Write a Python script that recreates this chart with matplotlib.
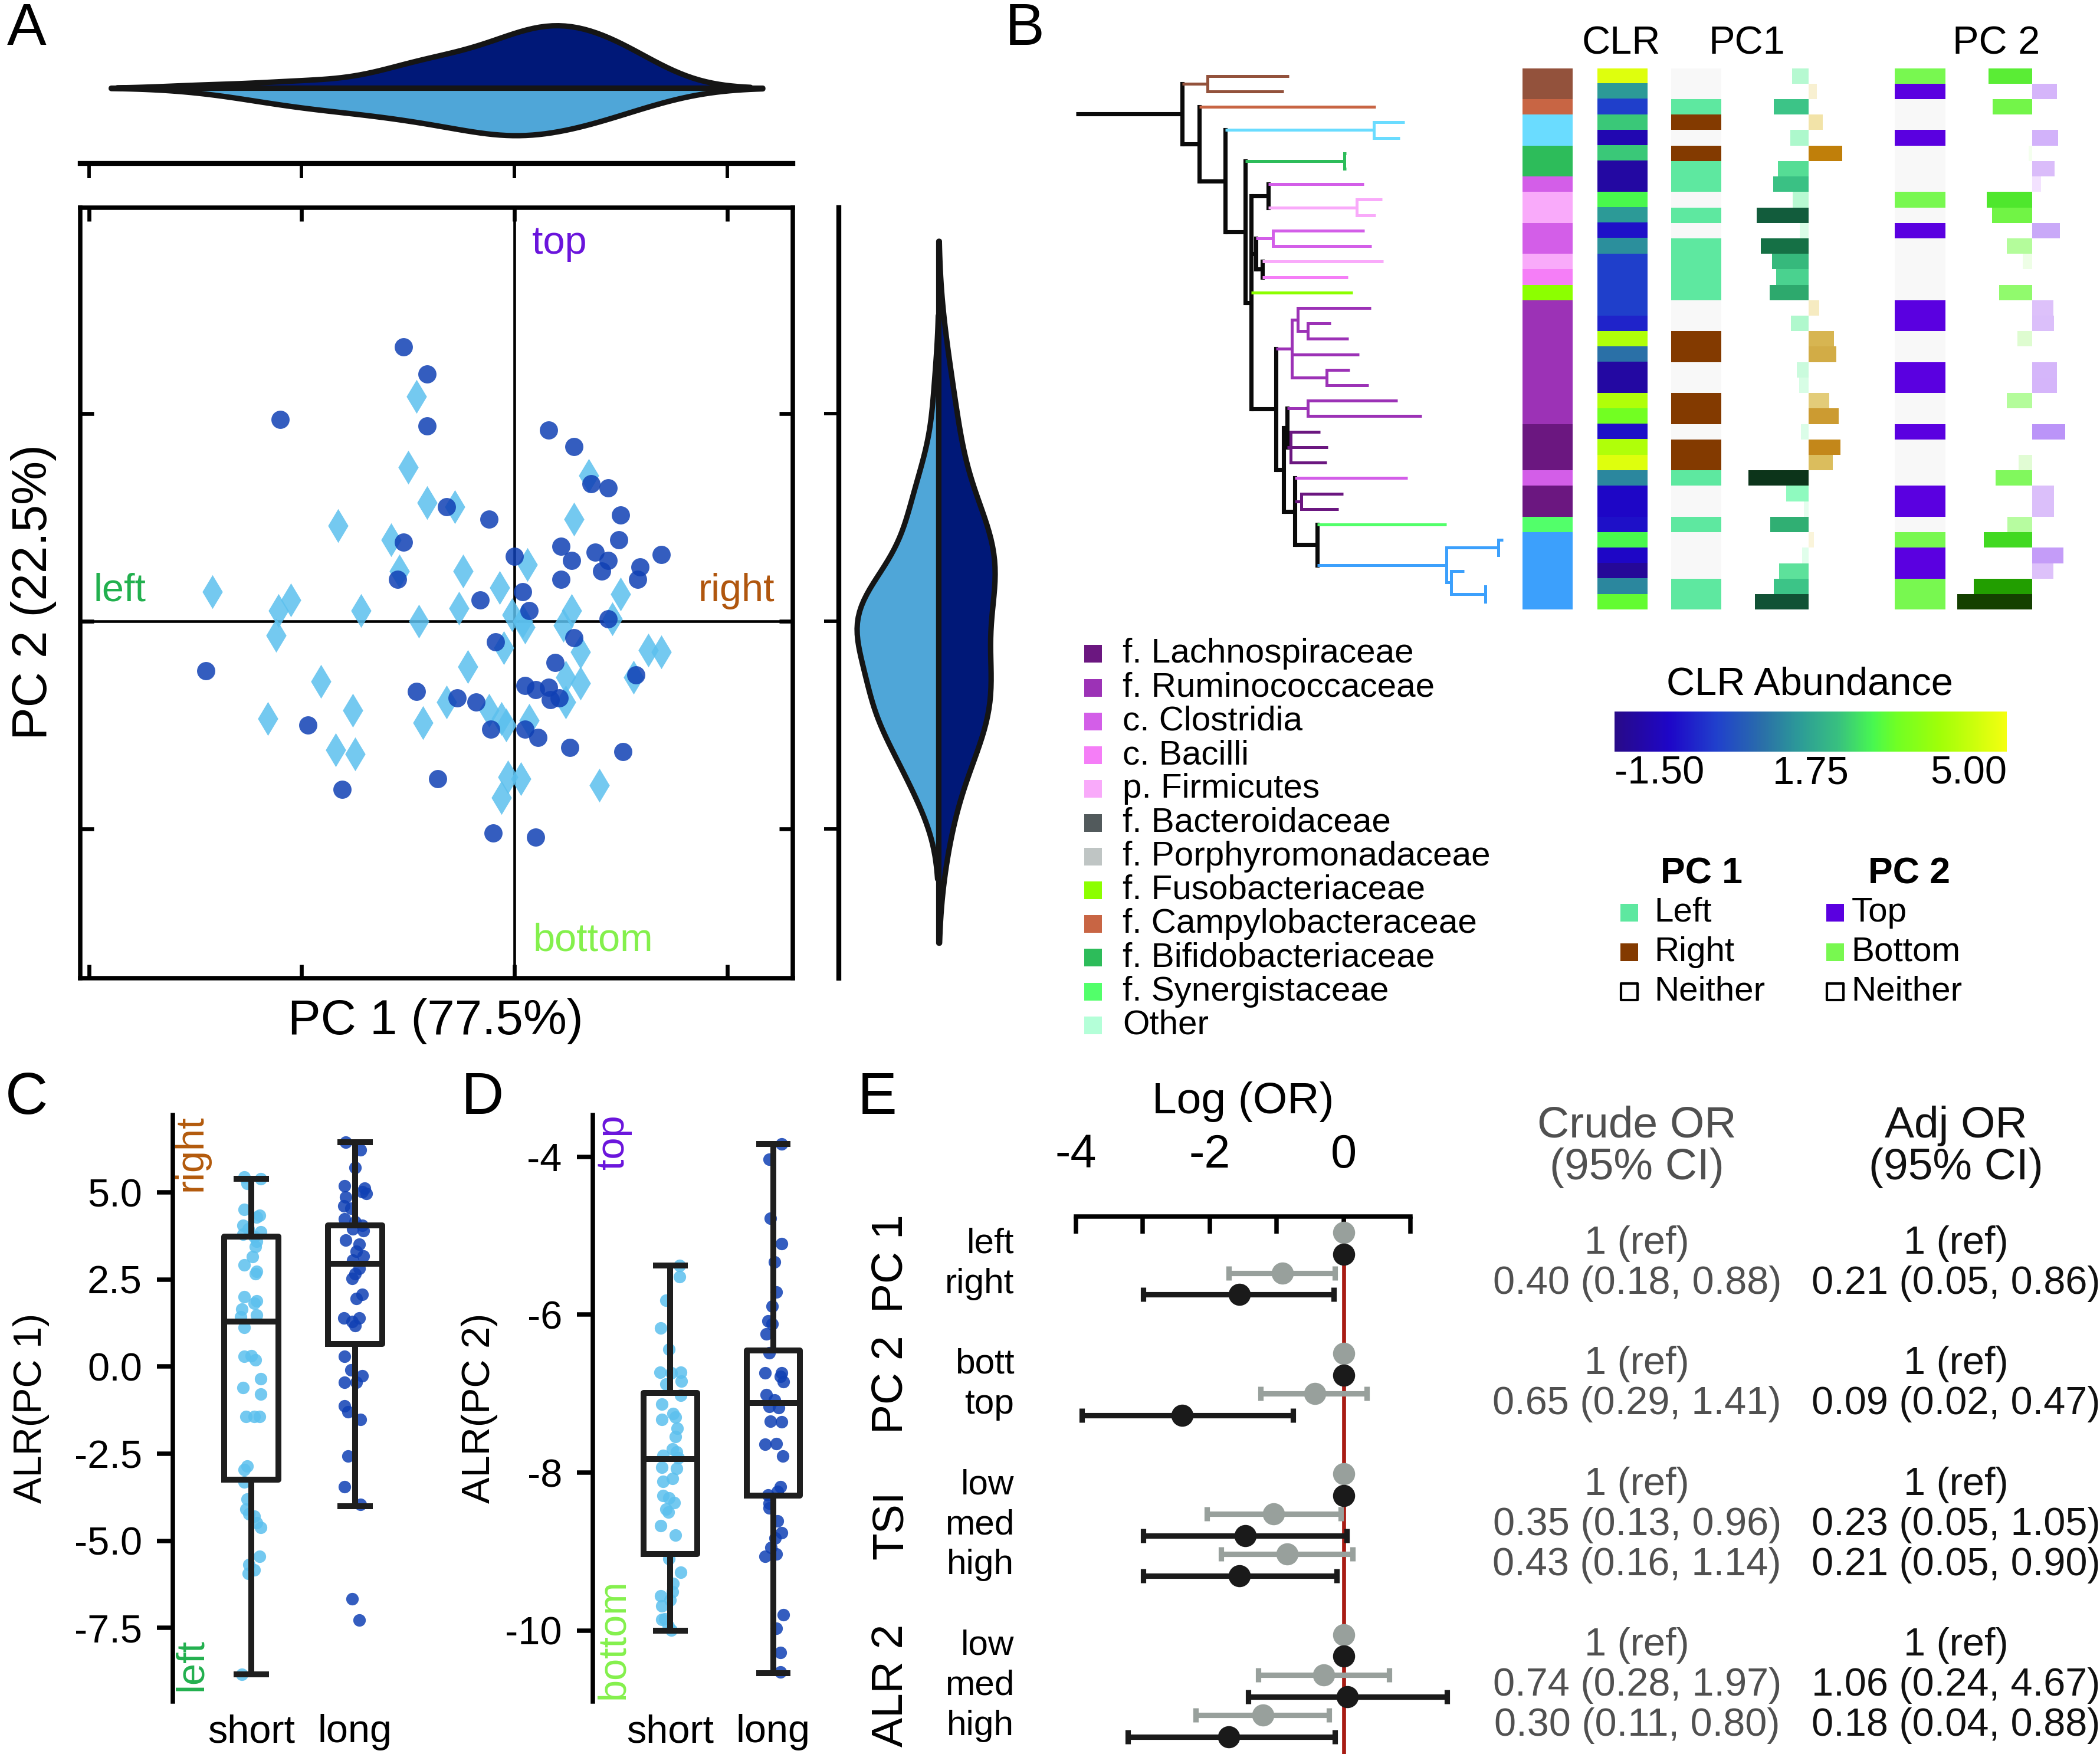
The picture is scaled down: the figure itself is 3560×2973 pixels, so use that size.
import numpy as np
import pandas as pd
import matplotlib
matplotlib.use("Agg")
import matplotlib.pyplot as plt
import seaborn as sns
from matplotlib.colors import LinearSegmentedColormap, Normalize, to_rgba
from matplotlib import transforms

plt.rcParams['font.family'] = ['Liberation Sans', 'DejaVu Sans']
plt.rcParams['axes.unicode_minus'] = False

# ---------------- A: PCA scores ----------------
long_pc1 = [-0.52, -0.41, -1.10, -0.41, 0.16, 0.28, 0.36, 0.44, 0.50, -0.32, -0.12, -0.52, 0.49,
            0.22, 0.38, 0.69, 0.00, 0.27, 0.44, 0.41, 0.59, 0.58, 0.22, -0.55, 0.04, -0.16, 0.07,
            0.44, -0.09, 0.28, -1.45, 0.19, 0.57, 0.05, 0.10, 0.16, -0.46, -0.27, -0.18, 0.17,
            0.21, -0.97, -0.11, 0.05, 0.11, 0.26, 0.51, -0.36, -0.81, -0.10, 0.10]
long_pc2 = [1.32, 1.19, 0.97, 0.94, 0.92, 0.84, 0.66, 0.64, 0.51, 0.55, 0.49, 0.38, 0.39, 0.36,
            0.33, 0.32, 0.31, 0.29, 0.29, 0.24, 0.26, 0.20, 0.20, 0.20, 0.14, 0.10, 0.05, 0.01,
            -0.10, -0.08, -0.24, -0.20, -0.26, -0.31, -0.33, -0.32, -0.34, -0.37, -0.39, -0.38,
            -0.37, -0.50, -0.52, -0.52, -0.56, -0.61, -0.63, -0.76, -0.81, -1.02, -1.04]
short_pc1 = [-0.46, -0.50, 0.35, -0.41, -0.28, -0.83, 0.28, -0.58, -0.54, -0.24, 0.06, -1.42,
             -1.05, -0.07, 0.50, -1.11, -0.72, -0.26, 0.27, -0.45, -0.01, 0.04, 0.05, 0.23, 0.46,
             -1.12, -0.05, 0.31, 0.63, 0.69, -0.22, -0.91, 0.24, 0.31, 0.56, 0.24, -0.32, -0.76,
             -0.12, -1.16, -0.06, -0.04, 0.07, -0.43, -0.84, -0.75, -0.03, 0.03, 0.40, -0.06]
short_pc2 = [1.08, 0.74, 0.70, 0.57, 0.55, 0.46, 0.49, 0.39, 0.24, 0.24, 0.27, 0.14, 0.10, 0.16,
             0.13, 0.05, 0.05, 0.06, 0.05, 0.00, 0.03, 0.00, -0.03, -0.02, 0.01, -0.07, -0.13,
             -0.15, -0.14, -0.15, -0.22, -0.29, -0.27, -0.30, -0.27, -0.39, -0.39, -0.43, -0.43,
             -0.47, -0.47, -0.50, -0.48, -0.49, -0.62, -0.64, -0.75, -0.76, -0.79, -0.85]

# ---------------- B: taxa tree + heatmap ----------------
row_taxa = (['brown'] * 2 + ['f. Campylobacteraceae'] + ['cyan'] * 2 + ['f. Bifidobacteriaceae'] * 2
            + ['c. Clostridia'] + ['p. Firmicutes'] * 2 + ['c. Clostridia'] * 2 + ['p. Firmicutes']
            + ['c. Bacilli'] + ['f. Fusobacteriaceae'] + ['f. Ruminococcaceae'] * 8
            + ['f. Lachnospiraceae'] * 3 + ['c. Clostridia'] + ['f. Lachnospiraceae'] * 2
            + ['f. Synergistaceae'] + ['blue'] * 5)
clr_vals = [4.7, 1.55, 0.19, 2.3, -0.9, 2.3, -1.1, -1.1, 2.8, 1.55, -0.45, 1.4, 0.19, 0.19, 0.19,
            0.19, -0.2, 4.1, 0.97, -1.1, -1.1, 4.1, 3.2, -0.45, 4.1, 4.7, 1.3, -0.6, -0.6, -0.45,
            2.8, -0.6, -1.25, 1.3, 3.05]
pc1_class = list("NNLRNRLLNLNLLLLNNRRNNRRNRRLNNLNNNLL")
pc2_class = list("BTNNTNNNBNTNNNNTTNNTTNNTNNNTTNBTTBB")
pc1_load = [-0.42, 0.21, -0.90, 0.36, -0.47, 0.86, -0.79, -0.91, -0.41, -1.33, -0.22, -1.23, -0.94,
            -0.84, -1.00, 0.27, -0.46, 0.66, 0.71, -0.31, -0.24, 0.54, 0.77, -0.20, 0.82, 0.62,
            -1.55, -0.58, -0.12, -0.98, 0.14, -0.16, -0.76, -0.90, -1.38]
pc2_load = [-1.13, 0.64, -1.02, 0.0, 0.66, -0.10, 0.58, 0.22, -1.17, -1.04, 0.71, -0.66, -0.24, 0.0,
            -0.86, 0.54, 0.56, -0.38, 0.0, 0.63, 0.64, -0.66, 0.0, 0.85, 0.0, -0.36, -0.94, 0.56,
            0.56, -0.64, -1.25, 0.80, 0.54, -1.51, -1.93]

# tree (newick, branch lengths)
_H = "(r8:0.75,r9:0.56):2.62"
_G = f"(r7:2.82,{_H}):0.50"
_I = "((r10:2.72,r11:2.92):0.50,(r12:3.57,r13:2.53):0.20):0.13"
_M = "((r15:2.15,(r16:0.68,r17:1.20):0.29):0.18,r18:1.99,(r19:0.67,r20:1.24):1.03):0.47"
_R2 = "((r21:2.65,r22:3.36):0.62,(r23:0.87,r24:1.09,r25:1.06):0.12):0.10"
_X = "((r30:0.15,r31:0.05):1.53,(r32:0.38,(r33:0.03,r34:0.03):1.00):0.15):3.83"
_U = f"(r26:3.33,(r27:1.24,r28:1.11):0.18,(r29:3.83,{_X}):0.65):0.34"
_L = f"({_M},({_R2},{_U}):0.22):0.73"
_F = f"({_G},{_I},r14:3.00,{_L}):0.18"
_D = f"((r5:0.05,r6:0.05):2.93,{_F}):0.59"
NEWICK = f"((r0:2.41,r1:2.25):0.75,(r2:5.22,((r3:0.91,r4:0.78):4.39,{_D}):0.78):0.50):3.15"

tax_legend = ['f. Lachnospiraceae', 'f. Ruminococcaceae', 'c. Clostridia', 'c. Bacilli',
              'p. Firmicutes', 'f. Bacteroidaceae', 'f. Porphyromonadaceae', 'f. Fusobacteriaceae',
              'f. Campylobacteraceae', 'f. Bifidobacteriaceae', 'f. Synergistaceae', 'Other']

# ---------------- C / D: ALR box plots ----------------
c_short = [5.45, 5.39, 5.26, 4.51, 4.35, 4.29, 4.06, 3.96, 3.87, 3.81, 3.73, 3.60, 3.44, 3.16, 2.92,
           2.73, 2.66, 2.01, 1.88, 1.82, 1.65, 1.49, 1.43, 1.13, 0.32, 0.29, 0.19, -0.35, -0.61,
           -0.78, -1.43, -1.43, -1.43, -2.86, -2.95, -3.31, -3.81, -4.09, -4.22, -4.29, -4.48,
           -4.61, -5.45, -5.68, -5.84, -5.94, -8.83]
c_short_dx = [-0.07, 0.09, -0.04, -0.07, 0.08, 0.05, -0.08, -0.03, 0.09, -0.08, 0.03, 0.05, 0.04,
              0.01, -0.07, 0.05, 0.04, -0.07, 0.05, 0.03, -0.09, 0.05, -0.10, -0.07, 0.00, -0.07,
              0.04, 0.09, -0.08, 0.09, -0.05, 0.03, 0.08, -0.04, -0.07, -0.07, -0.04, -0.05, -0.02,
              0.03, 0.05, 0.09, 0.08, -0.02, 0.03, -0.03, -0.09]
c_long = [6.44, 6.23, 5.71, 5.19, 5.13, 5.03, 4.97, 4.87, 4.61, 4.55, 4.25, 4.16, 4.06, 3.96, 3.90,
          3.64, 3.51, 3.31, 3.18, 3.05, 2.82, 2.66, 2.53, 2.08, 1.95, 1.39, 1.39, 1.30, 1.17, 0.29,
          -0.09, -0.26, -0.45, -0.45, -1.13, -1.30, -1.52, -2.57, -3.44, -3.96, -6.66, -7.27]
c_long_dx = [-0.09, 0.05, 0.00, -0.10, 0.09, 0.07, 0.11, -0.09, -0.11, -0.04, -0.10, 0.00, 0.07,
             -0.02, 0.08, -0.09, 0.04, 0.01, 0.08, -0.02, 0.04, 0.00, -0.03, 0.07, 0.01, -0.11,
             0.04, -0.03, 0.00, -0.10, -0.04, 0.07, -0.10, 0.01, -0.10, -0.07, 0.05, -0.07, -0.10,
             0.05, -0.03, 0.04]
d_short = [-5.38, -5.52, -5.82, -6.17, -6.44, -6.73, -6.74, -6.88, -6.73, -6.84, -7.02, -7.13, -7.25,
           -7.30, -7.33, -7.44, -7.54, -7.70, -7.74, -7.78, -7.81, -7.93, -7.95, -8.07, -8.11, -8.29,
           -8.32, -8.38, -8.46, -8.50, -8.67, -8.79, -9.09, -9.26, -9.40, -9.51, -9.56, -9.61,
           -9.69, -9.85, -9.86, -9.94, -9.99]
d_short_dx = [0.09, 0.09, -0.04, -0.09, -0.01, -0.10, 0.01, -0.04, 0.10, 0.11, 0.10, -0.08, 0.03,
              0.05, -0.08, 0.07, 0.05, 0.02, 0.06, -0.07, 0.08, -0.08, 0.06, 0.02, -0.07, -0.07,
              -0.01, 0.04, -0.04, -0.02, -0.09, 0.05, -0.01, 0.10, 0.03, 0.02, -0.09, 0.00, -0.08,
              -0.05, -0.08, -0.02, 0.01]
d_long = [-3.84, -4.03, -4.78, -5.10, -5.33, -5.71, -5.89, -6.08, -6.12, -6.24, -6.48, -6.74, -6.74,
          -6.78, -6.85, -7.01, -7.08, -7.16, -7.18, -7.35, -7.36, -7.64, -7.63, -7.79, -8.18, -8.24,
          -8.28, -8.39, -8.45, -8.61, -8.76, -8.83, -8.95, -9.03, -9.06, -9.80, -9.97, -10.28,
          -10.52]
d_long_dx = [0.08, -0.04, -0.03, 0.08, 0.01, 0.03, -0.01, -0.05, -0.01, -0.07, -0.04, -0.08, 0.08,
             0.07, 0.10, -0.07, 0.01, -0.04, 0.05, -0.03, 0.08, -0.08, 0.03, 0.09, 0.07, 0.04,
             -0.05, -0.04, -0.04, 0.04, 0.08, 0.02, -0.02, 0.03, -0.08, 0.10, 0.03, 0.07, 0.07]
# box stats: whislo, q1, med, q3, whishi
c_box = {'short': [-8.84, -3.25, 1.30, 3.73, 5.39], 'long': [-4.0, 0.65, 2.96, 4.06, 6.44]}
d_box = {'short': [-10.0, -9.03, -7.83, -6.99, -5.38], 'long': [-10.54, -8.29, -7.12, -6.45, -3.84]}

# ---------------- E: odds ratios ----------------
or_groups = ['PC 1', 'PC 1', 'PC 2', 'PC 2', 'TSI', 'TSI', 'TSI', 'ALR 2', 'ALR 2', 'ALR 2']
or_levels = ['left', 'right', 'bott', 'top', 'low', 'med', 'high', 'low', 'med', 'high']
crude_or = [1, 0.40, 1, 0.65, 1, 0.35, 0.43, 1, 0.74, 0.30]
crude_lo = [np.nan, 0.18, np.nan, 0.29, np.nan, 0.13, 0.16, np.nan, 0.28, 0.11]
crude_hi = [np.nan, 0.88, np.nan, 1.41, np.nan, 0.96, 1.14, np.nan, 1.97, 0.80]
adj_or = [1, 0.21, 1, 0.09, 1, 0.23, 0.21, 1, 1.06, 0.18]
adj_lo = [np.nan, 0.05, np.nan, 0.02, np.nan, 0.05, 0.05, np.nan, 0.24, 0.04]
adj_hi = [np.nan, 0.86, np.nan, 0.47, np.nan, 1.05, 0.90, np.nan, 4.67, 0.88]

# ---------------- styles ----------------
C_LONG, C_SHORT = '#1040b4', '#5cc0ee'
V_LONG, V_SHORT = '#001878', '#4fa6d8'
tax_colors = {'f. Lachnospiraceae': '#6b1780', 'f. Ruminococcaceae': '#9c32b6',
              'c. Clostridia': '#d35ee8', 'c. Bacilli': '#f57ef7', 'p. Firmicutes': '#f9aafa',
              'f. Bacteroidaceae': '#525a5c', 'f. Porphyromonadaceae': '#bfc5c4',
              'f. Fusobacteriaceae': '#8cff00', 'f. Campylobacteraceae': '#c86544',
              'f. Bifidobacteriaceae': '#2dbc5a', 'f. Synergistaceae': '#52ff6a', 'Other': '#b4ffd8',
              'brown': '#93523c', 'cyan': '#6adcff', 'blue': '#3ca0fc'}
class_colors = {'L': '#5ee8a0', 'R': '#833a00', 'T': '#5a00e0', 'B': '#78f850', 'N': '#f8f8f8'}
clr_cmap = LinearSegmentedColormap.from_list('clr', [
    (0, '#280a88'), (0.14, '#1e06c8'), (0.26, '#2040cc'), (0.38, '#2a70a8'), (0.47, '#2c9a98'),
    (0.57, '#38c080'), (0.66, '#48f850'), (0.72, '#70ff24'), (0.83, '#a0ff08'), (1.0, '#f4ff10')])
clr_norm = Normalize(-1.5, 5.0)
pc1_neg = LinearSegmentedColormap.from_list('p1n', [
    (0, '#f0fff5'), (0.15, '#d8fde6'), (0.3, '#aef8cc'), (0.38, '#8cfabe'), (0.51, '#55dd95'),
    (0.58, '#3cc487'), (0.65, '#2ca86c'), (0.8, '#146e44'), (0.87, '#12583a'), (1.0, '#0c341a')])
pc1_pos = LinearSegmentedColormap.from_list('p1p', [
    (0, '#fffbec'), (0.25, '#f8f0d0'), (0.42, '#f2e3a8'), (0.63, '#e3cc78'), (0.75, '#d8b855'),
    (0.83, '#d2ac45'), (0.9, '#cc9a30'), (0.95, '#c4881c'), (1.0, '#c07f0a')])
pc2_neg = LinearSegmentedColormap.from_list('p2n', [
    (0, '#f8fff4'), (0.12, '#eefee6'), (0.19, '#e0fcd2'), (0.34, '#b4fc9c'), (0.45, '#90fa6c'),
    (0.49, '#80f85c'), (0.54, '#70f444'), (0.6, '#52ea30'), (0.65, '#40d820'), (0.78, '#22a000'),
    (1.0, '#144000')])
pc2_pos = LinearSegmentedColormap.from_list('p2p', [
    (0, '#fbf6ff'), (0.26, '#f3e2ff'), (0.65, '#dcc0fa'), (0.76, '#d4b4fa'), (0.84, '#c8a8f8'),
    (0.94, '#c49cf8'), (1.0, '#bb94f8')])

W, H = 1568, 1309  # layout grid


def box(x0, y0, x1, y1):
    return [x0 / W, 1 - y1 / H, (x1 - x0) / W, (y1 - y0) / H]


def bare(ax):
    for s in ax.spines.values():
        s.set_visible(False)
    ax.set_xticks([])
    ax.set_yticks([])
    ax.set_xlabel('')
    ax.set_ylabel('')
    ax.patch.set_visible(False)


def squeeze_half(ax, color, factor, axis):
    # narrow one half of a split violin (density_norm='width' gives both halves equal width)
    target = to_rgba(color)
    for coll in ax.collections:
        fc = coll.get_facecolor()
        if len(fc) and np.allclose(fc[0][:3], target[:3], atol=0.02):
            verts = []
            for p in coll.get_paths():
                v = p.vertices.copy()
                v[:, axis] *= factor
                verts.append(v)
            coll.set_verts(verts)


fig = plt.figure(figsize=(3561 / 300, 2973 / 300), dpi=300)
ov = fig.add_axes([0, 0, 1, 1], zorder=10)
ov.set_xlim(0, W)
ov.set_ylim(H, 0)
ov.axis('off')

# ======== A ========
axA = fig.add_axes(box(60, 155, 592, 730))
axA.scatter(short_pc1, short_pc2, marker='d', s=95, color=C_SHORT, alpha=0.85, lw=0, zorder=3)
axA.scatter(long_pc1, long_pc2, marker='o', s=55, color=C_LONG, alpha=0.85, lw=0, zorder=4)
axA.axhline(0, color='k', lw=1.1, zorder=2)
axA.axvline(0, color='k', lw=1.1, zorder=2)
axA.set_xlim(-2.04, 1.31)
axA.set_ylim(-1.72, 1.99)
axA.set_xticks([-2, -1, 0, 1])
axA.set_yticks([-1, 0, 1])
axA.tick_params(direction='in', top=True, right=True, length=5.5, width=1.6,
                labelbottom=False, labelleft=False)
for s in axA.spines.values():
    s.set_linewidth(1.8)

grp = ['long'] * len(long_pc1) + ['short'] * len(short_pc1)
dfA = pd.DataFrame({'pc1': long_pc1 + short_pc1, 'pc2': long_pc2 + short_pc2, 'grp': grp, 'pos': 'all'})
pal = {'long': V_LONG, 'short': V_SHORT}

axT = fig.add_axes(box(60, 10, 592, 122))
sns.violinplot(data=dfA, x='pc1', y='pos', hue='grp', hue_order=['long', 'short'], split=True,
               inner=None, orient='h', palette=pal, saturation=1, linewidth=2.2,
               linecolor='#151515', legend=False, density_norm='width', ax=axT)
squeeze_half(axT, V_SHORT, 0.76, 1)
axT.set_xlim(-2.04, 1.31)
axT.set_ylim(0.484, -0.477)
axT.set_xlabel('')
axT.set_ylabel('')
axT.set_yticks([])
axT.set_xticks([-2, -1, 0, 1])
axT.tick_params(axis='x', direction='out', length=6, width=1.4, labelbottom=False)
for k in ['top', 'left', 'right']:
    axT.spines[k].set_visible(False)
axT.spines['bottom'].set_linewidth(2.0)
axT.patch.set_visible(False)

axR = fig.add_axes(box(626, 155, 760, 730))
sns.violinplot(data=dfA, x='pos', y='pc2', hue='grp', hue_order=['short', 'long'], split=True,
               inner=None, orient='v', palette=pal, saturation=1, linewidth=2.2,
               linecolor='#151515', legend=False, density_norm='width', ax=axR)
squeeze_half(axR, V_LONG, 0.69, 0)
axR.set_xlim(-0.489, 0.39)
axR.set_ylim(-1.72, 1.99)
axR.set_xlabel('')
axR.set_ylabel('')
axR.set_xticks([])
axR.set_yticks([-1, 0, 1])
axR.tick_params(axis='y', direction='out', length=6, width=1.4, labelleft=False)
for k in ['top', 'bottom', 'right']:
    axR.spines[k].set_visible(False)
axR.spines['left'].set_linewidth(2.0)
axR.patch.set_visible(False)

ov.text(325, 762, 'PC 1 (77.5%)', fontsize=20, ha='center', va='center')
ov.text(25, 442, 'PC 2 (22.5%)', fontsize=20, ha='center', va='center', rotation=90)
ov.text(397, 182, 'top', fontsize=16, color='#6a14dc', ha='left', va='center')
ov.text(398, 702, 'bottom', fontsize=16, color='#84f04c', ha='left', va='center')
ov.text(70, 441, 'left', fontsize=16, color='#22b04e', ha='left', va='center')
ov.text(578, 441, 'right', fontsize=16, color='#b0560e', ha='right', va='center')


# ======== B: tree ========
def parse_newick(s):
    pos = 0

    def node():
        nonlocal pos
        children = []
        if s[pos] == '(':
            pos += 1
            children.append(node())
            while s[pos] == ',':
                pos += 1
                children.append(node())
            pos += 1
        start = pos
        while pos < len(s) and s[pos] not in ':,()':
            pos += 1
        name = s[start:pos]
        length = 0.0
        if pos < len(s) and s[pos] == ':':
            pos += 1
            start = pos
            while pos < len(s) and s[pos] not in ',()':
                pos += 1
            length = float(s[start:pos])
        return {'name': name, 'len': length, 'children': children}

    return node()


def layout(nd, x0):
    nd['x0'] = x0
    nd['x1'] = x0 + nd['len']
    if nd['children']:
        for c in nd['children']:
            layout(c, nd['x1'])
        nd['y'] = (nd['children'][0]['y'] + nd['children'][-1]['y']) / 2
        cols = {c['col'] for c in nd['children']}
        nd['col'] = cols.pop() if len(cols) == 1 else '#0a0a0a'
    else:
        r = int(nd['name'][1:])
        nd['y'] = r
        nd['col'] = tax_colors[row_taxa[r]]


def draw_tree(nd, ax):
    lw = 1.7 if nd['col'] == '#0a0a0a' else 1.2
    ax.plot([nd['x0'], nd['x1']], [nd['y'], nd['y']], color=nd['col'], lw=lw,
            solid_capstyle='butt', clip_on=False)
    if nd['children']:
        ax.plot([nd['x1'], nd['x1']], [nd['children'][0]['y'], nd['children'][-1]['y']],
                color=nd['col'], lw=lw, solid_capstyle='projecting', clip_on=False)
        for c in nd['children']:
            draw_tree(c, ax)


tree = parse_newick(NEWICK)
layout(tree, 0.0)
nrow = len(row_taxa)
rows = np.arange(nrow)
TOP, BOT = 50.9, 454.9
axTree = fig.add_axes(box(803, TOP, 1122, BOT))
draw_tree(tree, axTree)
axTree.set_xlim(0, 12.65)
axTree.set_ylim(nrow - 0.5, -0.5)
bare(axTree)


def col_axes(x0, x1):
    ax = fig.add_axes(box(x0, TOP, x1, BOT))
    ax.set_ylim(nrow - 0.5, -0.5)
    return ax


axTax = col_axes(1136.5, 1174)
axTax.barh(rows, 1, height=1.0, color=[tax_colors[t] for t in row_taxa], lw=0)
axTax.set_xlim(0, 1)
bare(axTax)

axClr = col_axes(1192.5, 1229.5)
axClr.imshow(np.array(clr_vals)[:, None], cmap=clr_cmap, norm=clr_norm, aspect='auto',
             extent=(0, 1, nrow - 0.5, -0.5), interpolation='nearest')
axClr.set_ylim(nrow - 0.5, -0.5)
bare(axClr)

axC1 = col_axes(1247.5, 1285)
axC1.barh(rows, 1, height=1.0, color=[class_colors[c] for c in pc1_class], lw=0)
axC1.set_xlim(0, 1)
bare(axC1)

axC2 = col_axes(1414.5, 1452)
axC2.barh(rows, 1, height=1.0, color=[class_colors[c] for c in pc2_class], lw=0)
axC2.set_xlim(0, 1)
bare(axC2)


def bar_colors(vals, cneg, cpos, nmax, pmax):
    return [cneg(min(-v / nmax, 1)) if v < 0 else cpos(min(v / pmax, 1)) for v in vals]


axL1 = col_axes(1300.75, 1379)
axL1.barh(rows, pc1_load, height=1.0, color=bar_colors(pc1_load, pc1_neg, pc1_pos, 1.55, 0.86), lw=0)
axL1.set_xlim(-1.7, 1.0)
bare(axL1)

axL2 = col_axes(1459.1, 1546)
axL2.barh(rows, pc2_load, height=1.0, color=bar_colors(pc2_load, pc2_neg, pc2_pos, 1.93, 0.85), lw=0)
axL2.set_xlim(-2.0, 1.0)
bare(axL2)

ov.text(1210, 33, 'CLR', fontsize=16, ha='center', va='center')
ov.text(1304, 33, 'PC1', fontsize=16, ha='center', va='center')
ov.text(1490, 33, 'PC 2', fontsize=16, ha='center', va='center')

# colorbar
cax = fig.add_axes(box(1205, 531, 1498, 561))
cb = fig.colorbar(plt.cm.ScalarMappable(norm=clr_norm, cmap=clr_cmap), cax=cax,
                  orientation='horizontal')
cb.set_ticks([-1.5, 1.75, 5.0])
cb.set_ticklabels(['-1.50', '1.75', '5.00'])
cb.outline.set_visible(False)
cax.tick_params(length=0, labelsize=16, pad=1.5)
tl = cax.get_xticklabels()
tl[0].set_horizontalalignment('left')
tl[-1].set_horizontalalignment('right')
ov.text(1351, 511, 'CLR Abundance', fontsize=16, ha='center', va='center')

# taxonomy legend
for i, lab in enumerate(tax_legend):
    y = 488 + 25.2 * i
    ov.scatter(816, y, marker='s', s=50, color=tax_colors[lab], lw=0)
    ov.text(838, y, lab, fontsize=14, ha='left', va='center')

# PC class legend
ov.text(1270, 652, 'PC 1', fontsize=15, weight='bold', ha='center', va='center')
ov.text(1425, 652, 'PC 2', fontsize=15, weight='bold', ha='center', va='center')
for j, (lab, key) in enumerate([('Left', 'L'), ('Right', 'R'), ('Neither', None)]):
    y = 681 + 29.5 * j
    if key:
        ov.scatter(1216, y, marker='s', s=50, color=class_colors[key], lw=0)
    else:
        ov.scatter(1216, y, marker='s', s=42, facecolor='white', edgecolor='k', lw=1.0)
    ov.text(1235, y, lab, fontsize=14, ha='left', va='center')
for j, (lab, key) in enumerate([('Top', 'T'), ('Bottom', 'B'), ('Neither', None)]):
    y = 681 + 29.5 * j
    if key:
        ov.scatter(1370, y, marker='s', s=50, color=class_colors[key], lw=0)
    else:
        ov.scatter(1370, y, marker='s', s=42, facecolor='white', edgecolor='k', lw=1.0)
    ov.text(1382, y, lab, fontsize=14, ha='left', va='center')


# ======== C / D ========
def alr_panel(ax, data, dxs, stats, ylim, yticks, ylabel, labelpad):
    colors = [C_SHORT, C_LONG]
    for i, (ys, dx) in enumerate(zip(data, dxs)):
        ax.scatter(i + np.array(dx), ys, s=26, color=colors[i], alpha=0.85, lw=0, zorder=2)
    bstats = [dict(whislo=s[0], q1=s[1], med=s[2], q3=s[3], whishi=s[4], fliers=[])
              for s in stats]
    lp = dict(color='#1e1e1e', lw=2.4)
    ax.bxp(bstats, positions=[0, 1], widths=0.52, capwidths=0.28, showfliers=False,
           boxprops=lp, whiskerprops=lp, capprops=lp, medianprops=lp, manage_ticks=False,
           zorder=3)
    ax.set_ylim(*ylim)
    ax.set_yticks(yticks)
    ax.set_xticks([0, 1])
    ax.set_xticklabels(['short', 'long'])
    ax.tick_params(axis='y', direction='out', length=6.5, width=1.8, labelsize=16, pad=6)
    ax.tick_params(axis='x', length=0, labelsize=16, pad=5)
    for k in ['top', 'right', 'bottom']:
        ax.spines[k].set_visible(False)
    ax.spines['left'].set_linewidth(1.8)
    ax.set_ylabel(ylabel, fontsize=16, labelpad=labelpad)
    ax.patch.set_visible(False)


axCc = fig.add_axes(box(129, 832, 305, 1270))
alr_panel(axCc, [c_short, c_long], [c_short_dx, c_long_dx], [c_box['short'], c_box['long']],
          (-9.62, 7.23), [5.0, 2.5, 0.0, -2.5, -5.0, -7.5], 'ALR(PC 1)', 10)
axCc.set_yticklabels(['%.1f' % t for t in [5.0, 2.5, 0.0, -2.5, -5.0, -7.5]])
axCc.set_xlim(-0.755, 1.515)

axDd = fig.add_axes(box(442.5, 832, 620, 1270))
alr_panel(axDd, [d_short, d_long], [d_short_dx, d_long_dx], [d_box['short'], d_box['long']],
          (-10.9, -3.47), [-4, -6, -8, -10], 'ALR(PC 2)', 3)
axDd.set_xlim(-0.75, 1.555)

ov.text(143, 832, 'right', fontsize=16, color='#b35a0c', rotation=90, ha='center', va='top')
ov.text(143, 1262, 'left', fontsize=16, color='#22b04e', rotation=90, ha='center', va='bottom')
ov.text(458, 832, 'top', fontsize=16, color='#6a14dc', rotation=90, ha='center', va='top')
ov.text(458, 1268, 'bottom', fontsize=16, color='#84f04c', rotation=90, ha='center', va='bottom')

# ======== E ========
group_names = list(dict.fromkeys(or_groups))
gidx = [group_names.index(g) for g in or_groups]
ypos = np.arange(len(or_levels)) + np.array(gidx)

axE = fig.add_axes(box(803, 908, 1053, 1309))
axE.set_xlim(-4, 1)
axE.set_ylim(12.7, -0.67)
axE.axvline(0, color='#a81c14', lw=1.6, zorder=1)


def forest(ax, est, lo, hi, off, color):
    est, lo, hi = map(np.asarray, (est, lo, hi))
    le = np.log(est)
    has = ~np.isnan(lo)
    ax.errorbar(le[has], ypos[has] + off, xerr=[le[has] - np.log(lo[has]), np.log(hi[has]) - le[has]],
                fmt='none', ecolor=color, elinewidth=2.2, capsize=2.8, capthick=2.2, zorder=3,
                clip_on=False)
    ax.plot(le, ypos + off, 'o', color=color, ms=8, zorder=4, clip_on=False)


forest(axE, crude_or, crude_lo, crude_hi, -0.27, '#98a09c')
forest(axE, adj_or, adj_lo, adj_hi, 0.27, '#1a1a1a')

axE.xaxis.tick_top()
axE.set_xticks(range(-4, 2))
axE.set_xticklabels(['-4', '', '-2', '', '0', ''])
axE.tick_params(axis='x', direction='in', length=7, width=1.8, pad=16, labelsize=19)
axE.set_yticks([])
axE.xaxis.set_label_position('top')
axE.set_xlabel('Log (OR)', fontsize=18, labelpad=8)
for k in ['bottom', 'left', 'right']:
    axE.spines[k].set_visible(False)
axE.spines['top'].set_linewidth(1.8)
axE.patch.set_visible(False)

tE = transforms.blended_transform_factory(ov.transData, axE.transData)


def fmt_or(e, l, h):
    return '1 (ref)' if np.isnan(l) else '%.2f (%.2f, %.2f)' % (e, l, h)


for i in range(len(or_levels)):
    ov.text(757, ypos[i], or_levels[i], fontsize=14.5, ha='right', va='center', transform=tE)
    ov.text(1222, ypos[i], fmt_or(crude_or[i], crude_lo[i], crude_hi[i]), fontsize=16,
            color='#505050', ha='center', va='center', transform=tE)
    ov.text(1460, ypos[i], fmt_or(adj_or[i], adj_lo[i], adj_hi[i]), fontsize=16,
            color='#111111', ha='center', va='center', transform=tE)
for g in group_names:
    yy = ypos[[k for k, gg in enumerate(or_groups) if gg == g]].mean()
    ov.text(665, yy, g, fontsize=18, rotation=90, ha='center', va='center', transform=tE)

ov.text(1222, 856, 'Crude OR\n(95% CI)', fontsize=18, color='#505050', ha='center', va='center',
        linespacing=1.05)
ov.text(1460, 856, 'Adj OR\n(95% CI)', fontsize=18, color='#111111', ha='center', va='center',
        linespacing=1.05)

# panel letters
for lab, x, y in [('A', 20, 22), ('B', 765, 22), ('C', 20, 820), ('D', 360, 820), ('E', 655, 820)]:
    ov.text(x, y, lab, fontsize=24, ha='center', va='center')

fig.savefig('out.png', dpi=300)
